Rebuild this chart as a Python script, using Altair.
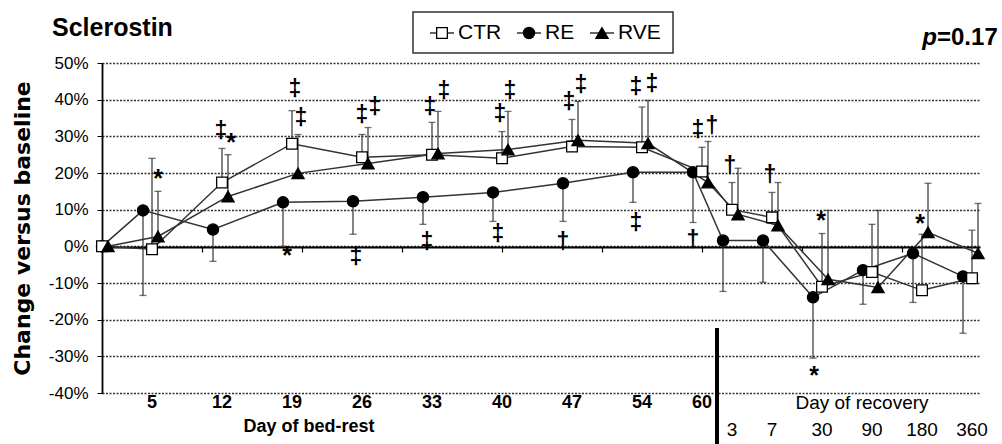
import altair as alt
import pandas as pd

# ---------------- data ----------------
positions = [0, 5, 12, 19, 26, 33, 40, 47, 54, 60, 63, 67, 72, 77, 82, 87]

series_names = ["CTR", "RE", "RVE"]
ctr = [0, -0.8, 17.4, 28.0, 24.3, 25.0, 24.0, 27.2, 27.0, 20.4, 10.0, 7.9, -11.0, -7.0, -12.0, -8.7]
ctr_err = [None, 24.0, 26.7, 37.0, 30.5, 33.8, 31.3, 34.6, 38.0, 27.0, 17.4, 14.7, 3.5, 6.0, 3.3, 4.4]
re_ = [0, 9.8, 4.6, 12.0, 12.3, 13.4, 14.7, 17.2, 20.2, 20.2, 1.6, 1.6, -13.9, -6.5, -1.9, -8.2]
re_err = [None, -13.4, -4.1, 0.0, 3.3, 6.0, 6.8, 6.8, 12.0, 6.5, -12.3, -9.8, -30.5, -15.8, -15.3, -23.7]
rve = [0, 2.7, 13.6, 19.9, 22.6, 25.3, 26.4, 28.9, 28.1, 17.4, 8.7, 5.7, -9.0, -11.2, 3.8, -1.9]
rve_err = [None, 15.0, 25.0, 30.5, 32.4, 36.8, 36.8, 39.5, 39.8, 28.6, 21.3, 17.4, 9.8, 9.8, 17.2, 11.7]

bed_labels = ["5", "12", "19", "26", "33", "40", "47", "54", "60"]
bed_label_pos = [5, 12, 19, 26, 33, 40, 47, 54, 60]
rec_labels = ["3", "7", "30", "90", "180", "360"]
rec_label_pos = [63, 67, 72, 77, 82, 87]

sig_x = [5.6, 11.9, 12.9, 19.3, 19.9, 18.5, 26.0, 27.3, 25.4, 32.8, 34.2, 32.5, 39.8, 40.8, 39.6,
         46.7, 47.9, 46.1, 53.4, 55.0, 53.4, 59.6, 61.0, 59.1, 62.8, 66.8, 71.9, 71.2, 81.8]
sig_y = [20.2, 31.4, 30.0, 42.8, 34.9, -0.8, 35.7, 38.0, -3.0, 38.0, 42.3, 1.1, 36.0, 42.3, 3.5,
         39.3, 43.9, 1.1, 43.4, 44.4, 6.5, 31.6, 32.7, 1.6, 21.8, 19.4, 8.7, -33.5, 7.9]
sig_text = ["*", "‡", "*", "‡", "‡", "*", "‡", "‡", "‡", "‡", "‡", "‡", "‡", "‡", "‡",
            "‡", "‡", "†", "‡", "‡", "‡", "‡", "†", "†", "†", "†", "*", "*", "*"]

# ---------------- tables ----------------
offsets = {"CTR": 0.0, "RE": -0.9, "RVE": 0.6}
rows = []
for name, vals, errs in zip(series_names, [ctr, re_, rve], [ctr_err, re_err, rve_err]):
    for p, v, e in zip(positions, vals, errs):
        shift = offsets[name] if (p > 0 or offsets[name] > 0) else 0.0
        rows.append({"series": name, "x": p + shift, "value": v, "err": e})
df = pd.DataFrame(rows)
df_err = df.dropna(subset=["err"])

sig = pd.DataFrame({"x": sig_x, "y": sig_y, "t": sig_text})
bed = pd.DataFrame({"x": bed_label_pos, "t": bed_labels})
rec = pd.DataFrame({"x": rec_label_pos, "t": rec_labels})
one = pd.DataFrame({"a": [0]})

FONT = "Liberation Sans"

xs = alt.Scale(domain=[0, 87.8], nice=False, zero=False)
ys = alt.Scale(domain=[-40, 50], nice=False)

xaxis = alt.Axis(values=[10, 20, 30, 40, 50, 60, 70, 80], labels=False, title=None, grid=False,
                 offset=-146, domain=True, domainColor="black", domainWidth=1.8,
                 ticks=True, tickSize=5, tickColor="black", tickWidth=1.2)
yaxis = alt.Axis(values=list(range(-40, 51, 10)), labelExpr="datum.value + '%'",
                 labelOverlap=False,
                 title="Change versus baseline", grid=True, gridDash=[2, 1.5], gridColor="#333333",
                 gridWidth=1.3, gridOpacity=1, domainColor="black", domainWidth=1.8,
                 tickColor="black", tickSize=5, labelFont=FONT, labelFontSize=17,
                 labelColor="black", labelPadding=9,
                 titleFont="DejaVu Sans", titleFontSize=22, titleFontWeight="bold",
                 titleColor="black", titleX=-80, titleY=165, titleAngle=270,
                 titleAlign="center", titleBaseline="middle")


def X(field="x"):
    return alt.X(f"{field}:Q", scale=xs, axis=xaxis, title=None)


def Y(field="value"):
    return alt.Y(f"{field}:Q", scale=ys, axis=yaxis, title="Change versus baseline")


lines = alt.Chart(df).mark_line(color="#333333", strokeWidth=1.5).encode(
    x=X(), y=Y(), detail="series:N", order="x:Q")

err_rules = alt.Chart(df_err).mark_rule(color="#333333", strokeWidth=1.2).encode(
    x=X(), y=Y(), y2="err:Q")
err_caps = alt.Chart(df_err).mark_tick(color="#333333", thickness=1.3, size=7,
                                       orient="horizontal").encode(x=X(), y=Y("err"))

marker_style = {"CTR": ("square", "white", 115), "RE": ("circle", "black", 125),
                "RVE": ("triangle-up", "black", 150)}
point_layers = []
for name in ["RE", "CTR", "RVE"]:
    shp, fill, size = marker_style[name]
    point_layers.append(
        alt.Chart(df).transform_filter(alt.datum.series == name).mark_point(
            shape=shp, filled=True, fill=fill, stroke="black", strokeWidth=1.3,
            size=size, opacity=1).encode(x=X(), y=Y()))

daggers = alt.Chart(sig).transform_filter(alt.datum.t != "*").mark_text(
    font=FONT, fontSize=23, fontWeight="bold", color="black", baseline="middle",
    align="center").encode(x=X(), y=Y("y"), text="t:N")
stars = alt.Chart(sig).transform_filter(alt.datum.t == "*").mark_text(
    font=FONT, fontSize=25, fontWeight="bold", color="black", baseline="middle",
    align="center", dy=7).encode(x=X(), y=Y("y"), text="t:N")

bed_text = alt.Chart(bed).mark_text(font=FONT, fontSize=18, fontWeight="bold", color="black",
                                    baseline="middle", align="center").encode(
    x=X(), y=alt.value(340), text="t:N")
rec_text = alt.Chart(rec).mark_text(font=FONT, fontSize=19, color="black",
                                    baseline="middle", align="center").encode(
    x=X(), y=alt.value(367), text="t:N")


def label(txt, x, y, size, weight="normal", align="left", baseline="middle", style="normal"):
    return alt.Chart(one).mark_text(text=txt, font=FONT, fontSize=size, fontWeight=weight,
                                    fontStyle=style, color="black", align=align,
                                    baseline=baseline).encode(x=alt.value(x), y=alt.value(y))


bed_title = label("Day of bed-rest", 207, 364, 18, "bold", "center")
rec_title = label("Day of recovery", 760, 340, 19, "normal", "center")
main_title = label("Sclerostin", -50, -27, 25, "bold", "left", "alphabetic")
p_italic = label("p", 835, -18, 24, "bold", "right", "alphabetic", "italic")
p_value = label("=0.17", 835, -18, 24, "bold", "left", "alphabetic")

separator = alt.Chart(one).mark_rule(color="black", strokeWidth=4).encode(
    x=alt.value(615), y=alt.value(265), y2=alt.value(385))

# ---------------- legend (drawn) ----------------
legend_layers = [alt.Chart(one).mark_rect(fill="white", stroke="#333333", strokeWidth=1.5).encode(
    x=alt.value(311), x2=alt.value(571), y=alt.value(-51), y2=alt.value(-10))]
legend_x = {"CTR": 328, "RE": 415, "RVE": 488}
for name in ["CTR", "RE", "RVE"]:
    x0 = legend_x[name]
    shp, fill, size = marker_style[name]
    legend_layers.append(alt.Chart(one).mark_rule(color="#333333", strokeWidth=1.5).encode(
        x=alt.value(x0), x2=alt.value(x0 + 24), y=alt.value(-30)))
    legend_layers.append(alt.Chart(one).mark_point(
        shape=shp, filled=True, fill=fill, stroke="black", strokeWidth=1.3, size=size,
        opacity=1).encode(x=alt.value(x0 + 12), y=alt.value(-30)))
    legend_layers.append(label(name, x0 + 28, -30, 21))

chart = alt.layer(
    lines, err_rules, err_caps, *point_layers, daggers, stars, bed_text, rec_text,
    bed_title, rec_title, main_title, p_italic, p_value, separator, *legend_layers
).properties(
    width=878, height=330,
    autosize=alt.AutoSizeParams(type="none"),
    padding={"left": 102, "top": 63, "right": 22, "bottom": 51},
    background="white",
).configure_view(stroke=None)

chart.save("out.html", embed_options={"renderer": "svg", "actions": False})
